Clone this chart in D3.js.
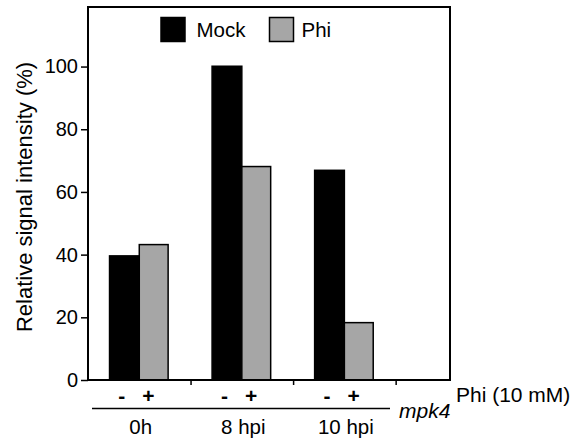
<!DOCTYPE html>
<html>
<head>
<meta charset="utf-8">
<script src="https://cdn.jsdelivr.net/npm/d3@7"></script>
<style>
  html, body { margin: 0; padding: 0; background: #fff; }
  svg { display: block; font-family: "Liberation Sans", Arial, sans-serif; }
</style>
</head>
<body>
<svg id="chart" width="575" height="441"></svg>
<script>
const categories = ["0h", "8 hpi", "10 hpi"];
const seriesNames = ["Mock", "Phi"];
const mockValues = [39.6, 100.1, 66.9];
const phiValues = [43.2, 68.1, 18.3];
const yTicks = [0, 20, 40, 60, 80, 100];
const treatmentLabels = ["-", "+"];
const yLabel = "Relative signal intensity (%)";
const xRightLabel = "Phi (10 mM)";
const genotypeLabel = "mpk4";

const colors = { Mock: "#000000", Phi: "#a6a6a6" };

const svg = d3.select("#chart");
const mLeft = 88, mRight = 450, mTop = 7, mBottom = 380;

const x = d3.scaleLinear().domain([0, 3.53]).range([mLeft, mRight]);
const y = d3.scaleLinear().domain([0, 119]).range([mBottom, mTop]);

const barW = 0.29;
const data = [];
categories.forEach((c, i) => {
  data.push({ cat: c, i, s: "Mock", v: mockValues[i], x0: i + 0.5 - barW, x1: i + 0.5 });
  data.push({ cat: c, i, s: "Phi", v: phiValues[i], x0: i + 0.5, x1: i + 0.5 + barW * 0.97 });
});

// bars
svg.append("g").selectAll("rect").data(data).join("rect")
  .attr("x", d => x(d.x0))
  .attr("width", d => x(d.x1) - x(d.x0))
  .attr("y", d => y(d.v))
  .attr("height", d => y(0) - y(d.v))
  .attr("fill", d => colors[d.s])
  .attr("stroke", "#000")
  .attr("stroke-width", 1.5);

// frame
svg.append("rect")
  .attr("x", mLeft).attr("y", mTop)
  .attr("width", mRight - mLeft).attr("height", mBottom - mTop)
  .attr("fill", "none").attr("stroke", "#000").attr("stroke-width", 2);

// y axis
const yAxis = d3.axisLeft(y).tickValues(yTicks).tickSize(7).tickPadding(3);
const gy = svg.append("g").attr("transform", `translate(${mLeft},0)`).call(yAxis);
gy.select(".domain").remove();
gy.selectAll(".tick line").attr("stroke", "#000").attr("stroke-width", 1.5);
gy.selectAll(".tick text").attr("font-size", 20).attr("fill", "#000")
  .attr("font-family", "Liberation Sans, Arial, sans-serif");

// x axis small separators
const xAxis = d3.axisBottom(x).tickValues([1, 2, 3]).tickSize(5).tickFormat("");
const gx = svg.append("g").attr("transform", `translate(0,${mBottom})`).call(xAxis);
gx.select(".domain").remove();
gx.selectAll(".tick line").attr("stroke", "#000").attr("stroke-width", 1.5);

// treatment labels
const tl = [];
categories.forEach((c, i) => {
  tl.push({ t: treatmentLabels[0], pos: i + 0.5 - 0.17 });
  tl.push({ t: treatmentLabels[1], pos: i + 0.5 + 0.09 });
});
svg.append("g").selectAll("text").data(tl).join("text")
  .attr("x", d => x(d.pos)).attr("y", 403)
  .attr("text-anchor", "middle")
  .attr("font-size", 21).attr("font-weight", "bold")
  .text(d => d.t);

// group line
svg.append("line")
  .attr("x1", 92).attr("x2", 390).attr("y1", 408.5).attr("y2", 408.5)
  .attr("stroke", "#000").attr("stroke-width", 1.5);

// category labels
svg.append("g").selectAll("text").data(categories).join("text")
  .attr("x", (d, i) => x(i + 0.5) + 1.5).attr("y", 434)
  .attr("text-anchor", "middle")
  .attr("font-size", 20.5)
  .text(d => d);

svg.append("text")
  .attr("x", 399).attr("y", 418)
  .attr("font-size", 21).attr("font-style", "italic")
  .text(genotypeLabel);

svg.append("text")
  .attr("x", 456).attr("y", 402)
  .attr("font-size", 21)
  .text(xRightLabel);

// y label
svg.append("text")
  .attr("transform", "translate(32,197) rotate(-90)")
  .attr("text-anchor", "middle")
  .attr("font-size", 22)
  .text(yLabel);

// legend
const legendItems = [
  { name: seriesNames[0], bx: 161, tx: 196.5 },
  { name: seriesNames[1], bx: 269.5, tx: 301.5 }
];
const lg = svg.append("g");
lg.selectAll("rect").data(legendItems).join("rect")
  .attr("x", d => d.bx).attr("y", 17.5)
  .attr("width", 24).attr("height", 24)
  .attr("fill", d => colors[d.name])
  .attr("stroke", "#000").attr("stroke-width", 1.5);
lg.selectAll("text").data(legendItems).join("text")
  .attr("x", d => d.tx).attr("y", 37)
  .attr("font-size", 20.5)
  .text(d => d.name);
</script>
</body>
</html>
